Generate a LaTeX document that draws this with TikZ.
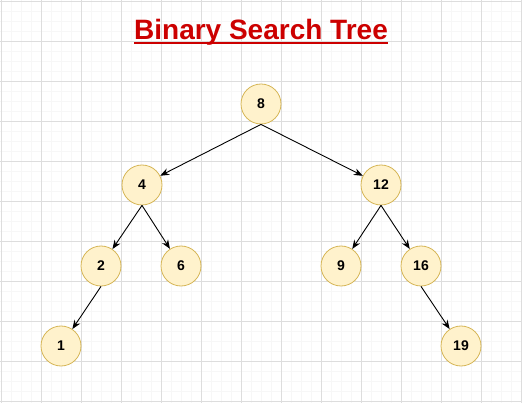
\documentclass[tikz,border=0pt]{standalone}
\usepackage{fontspec}
\setmainfont{Liberation Sans}
\usetikzlibrary{arrows.meta}
\definecolor{gridmajor}{HTML}{DDDDDD}
\definecolor{gridminor}{HTML}{F7F7F7}
\definecolor{keyfill}{HTML}{FFF2CC}
\definecolor{keyline}{HTML}{D6B656}
\definecolor{titlered}{HTML}{CC0000}
\tikzstyle{key}=[circle, draw=keyline, fill=keyfill, line width=0.8pt, minimum size=40pt, inner sep=0pt, font=\fontsize{14}{16}\selectfont\bfseries]
\tikzstyle{link}=[-{Stealth[length=9pt,width=7pt]}, line width=0.9pt, black]

\begin{document}
\begin{tikzpicture}[x=1pt,y=-1pt]
\useasboundingbox (0,0) rectangle (522,403);
\fill[white] (0,0) rectangle (522,403);
\foreach \x in {1,11,...,521} {
	\draw[gridminor, line width=0.5pt] (\x,0) -- (\x,403);
}
\foreach \y in {1,11,...,401} {
	\draw[gridminor, line width=0.5pt] (0,\y) -- (522,\y);
}
\foreach \x in {1,41,...,521} {
	\draw[gridmajor, line width=0.8pt] (\x,0) -- (\x,403);
}
\foreach \y in {1,41,...,401} {
	\draw[gridmajor, line width=0.8pt] (0,\y) -- (522,\y);
}
\node[inner sep=0pt, anchor=base, text=titlered, font=\fontsize{28}{32}\selectfont\bfseries] (title) at (261,40) {Binary Search Tree};
\draw[titlered, line width=2.2pt] ([yshift=-3pt]title.base west) -- ([yshift=-3pt]title.base east);
% keys of the tree
\foreach \name/\x/\y in {8/261/104,4/142/185,12/381/185,2/101/266,6/181/266,9/341/266,16/421/266,1/61/346,19/461/346} {
	\node[key] (k\name) at (\x,\y) {\name};
}
\draw[link] (k8.south) -- (k4);
\draw[link] (k8.south) -- (k12);
\draw[link] (k4.south) -- (k2);
\draw[link] (k4.south) -- (k6);
\draw[link] (k12.south) -- (k9);
\draw[link] (k12.south) -- (k16);
\draw[link] (k2.south) -- (k1);
\draw[link] (k16.south) -- (k19);
\end{tikzpicture}
\end{document}
